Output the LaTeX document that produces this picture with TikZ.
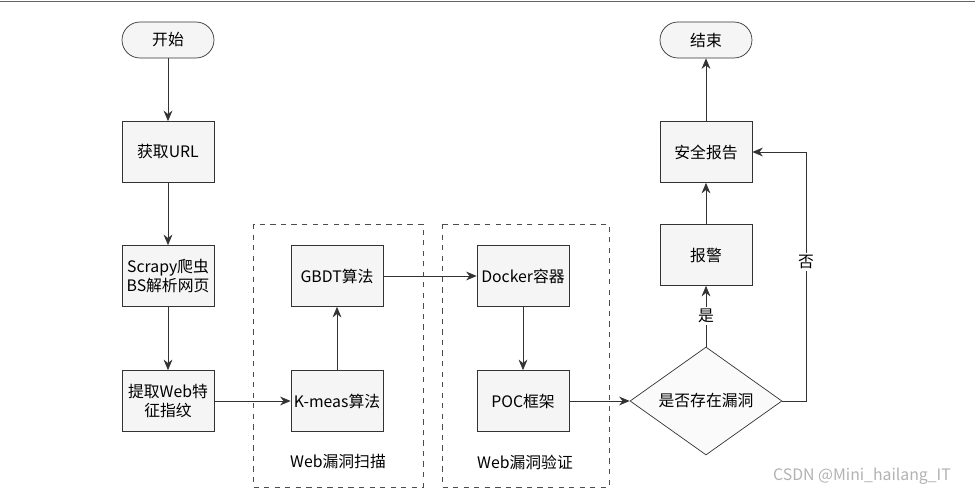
\documentclass[tikz,border=0pt]{standalone}
\usepackage{fontspec}
\setmainfont{Noto Sans CJK SC}
\usetikzlibrary{shapes.geometric,arrows.meta}
\begin{document}
\begin{tikzpicture}[x=0.02cm,y=-0.02cm,
  box/.style={draw=black!80,fill=gray!8,minimum width=1.84cm,minimum height=1.22cm,align=center,font=\small,inner sep=1pt},
  term/.style={draw=black!80,fill=gray!8,rounded corners=0.36cm,minimum width=1.84cm,minimum height=0.72cm,font=\small},
  dia/.style={draw=black!80,fill=gray!4,diamond,aspect=1.4,minimum width=3.04cm,minimum height=2.16cm,inner sep=0pt,font=\small},
  grp/.style={draw=black!70,dashed},
  lbl/.style={fill=white,font=\small,inner sep=1pt},
  arr/.style={-{Stealth[length=6pt,width=5pt]},black!80}]
\useasboundingbox (0,0) rectangle (975,493);
\draw[black!60] (0,1) -- (975,1);
\draw[grp] (253,224) rectangle (423,487);
\draw[grp] (442,224) rectangle (609,487);
\node[font=\small] (g1) at (338,462) {Web漏洞扫描};
\node[font=\small] (g2) at (525,462) {Web漏洞验证};
\node[term] (start) at (168,40) {开始};
\node[box] (url) at (168,152) {获取URL};
\node[box] (scr) at (168,276) {Scrapy爬虫\\BS解析网页};
\node[box] (fp) at (168,401) {提取Web特\\征指纹};
\node[box] (gbdt) at (337,276) {GBDT算法};
\node[box] (km) at (337,401) {K-meas算法};
\node[box] (dock) at (523,276) {Docker容器};
\node[box] (poc) at (523,401) {POC框架};
\node[dia] (d) at (706,401) {是否存在漏洞};
\node[box] (alarm) at (706,255) {报警};
\node[box] (rep) at (706,152) {安全报告};
\node[term] (end) at (706,40) {结束};
\coordinate (c1) at (806,401);
\coordinate (c2) at (806,152);
\draw[arr] (start) -- (url);
\draw[arr] (url) -- (scr);
\draw[arr] (scr) -- (fp);
\draw[arr] (fp) -- (km);
\draw[arr] (km) -- (gbdt);
\draw[arr] (gbdt) -- (dock);
\draw[arr] (dock) -- (poc);
\draw[arr] (poc) -- (d);
\draw[arr] (d) -- (alarm);
\node[lbl] (yes) at (706,316) {是};
\draw[arr] (alarm) -- (rep);
\draw[arr] (rep) -- (end);
\draw[arr] (d.east) -- (c1) -- (c2) -- (rep);
\node[lbl] (no) at (806,262) {否};
\node[text=gray!60,font=\small] (wm) at (862,476) {CSDN @Mini\_hailang\_IT};
\end{tikzpicture}
\end{document}
